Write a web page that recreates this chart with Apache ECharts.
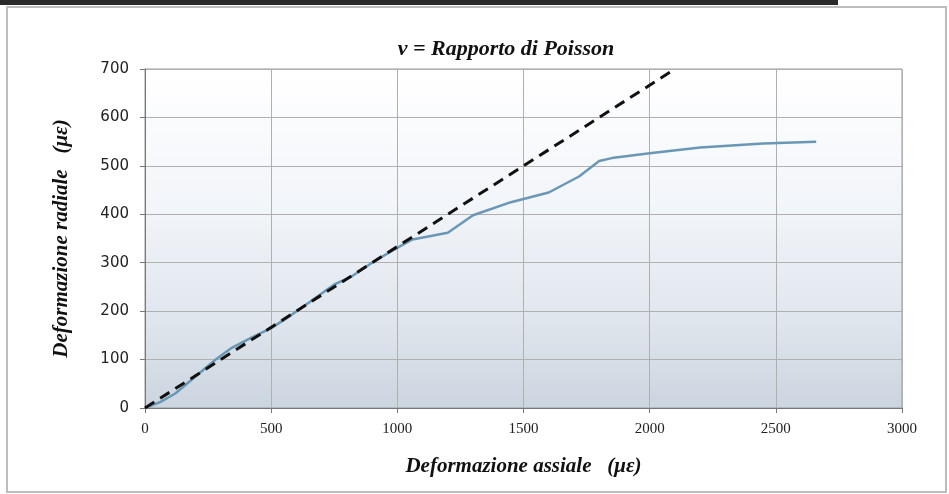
<!DOCTYPE html>
<html>
<head>
<meta charset="utf-8">
<script src="https://cdn.jsdelivr.net/npm/echarts@6/dist/echarts.min.js"></script>
<style>
html,body{margin:0;padding:0;background:#fff;}
#c{width:949px;height:494px;}
</style>
</head>
<body>
<div id="c"></div>
<script>
// ---- data ----
const axialStrain = [0, 60, 120, 200, 280, 340, 420, 500, 560, 650, 750, 820, 900, 980, 1060, 1200, 1300, 1450, 1600, 1720, 1800, 1850, 2000, 2200, 2450, 2660];
const radialStrain = [0, 12, 30, 65, 100, 123, 145, 165, 185, 218, 255, 272, 300, 325, 348, 362, 398, 425, 445, 478, 510, 516, 526, 538, 546, 550];
const poissonLineX = [0, 2100];
const poissonLineY = [0, 700];
const xTicks = [0, 500, 1000, 1500, 2000, 2500, 3000];
const yTicks = [0, 100, 200, 300, 400, 500, 600, 700];

const titleText = 'ν = Rapporto di Poisson';
const xName = 'Deformazione assiale   (με)';
const yName = 'Deformazione radiale   (με)';

const measured = axialStrain.map((x, i) => [x, radialStrain[i]]);
const fitted = poissonLineX.map((x, i) => [x, poissonLineY[i]]);

const chart = echarts.init(document.getElementById('c'), null, {renderer: 'canvas'});
const serifBI = {fontFamily: 'Liberation Serif', fontStyle: 'italic', fontWeight: 'bold', color: '#111'};

chart.setOption({
  animation: false,
  backgroundColor: '#ffffff',
  graphic: [
    {type: 'rect', shape: {x: 0, y: 0, width: 838, height: 5}, style: {fill: '#2a2a2a'}},
    {type: 'rect', shape: {x: 7, y: 7, width: 939, height: 485}, style: {fill: 'none', stroke: '#bdbdbd', lineWidth: 2}}
  ],
  title: {
    text: titleText,
    left: 501, top: 33, textAlign: 'center',
    textStyle: Object.assign({fontSize: 22}, serifBI)
  },
  grid: {
    left: 145, right: 47, top: 69, bottom: 86,
    show: true,
    borderColor: '#9a9a9a', borderWidth: 1,
    backgroundColor: new echarts.graphic.LinearGradient(0, 0, 0, 1, [
      {offset: 0, color: '#ffffff'},
      {offset: 0.4, color: '#f2f5f9'},
      {offset: 0.7, color: '#e2e8ef'},
      {offset: 1, color: '#cbd5df'}
    ])
  },
  xAxis: {
    type: 'value', min: xTicks[0], max: xTicks[xTicks.length - 1], interval: 500,
    name: xName, nameLocation: 'middle', nameGap: 48,
    nameTextStyle: Object.assign({fontSize: 21}, serifBI),
    axisLine: {show: true, lineStyle: {color: '#777', width: 1}},
    axisTick: {show: true, length: 5, lineStyle: {color: '#777'}},
    axisLabel: {fontFamily: 'Liberation Serif', fontSize: 15, color: '#222', margin: 14,
      formatter: v => String(v)},
    splitLine: {show: true, lineStyle: {color: '#b0b0b0', width: 1}}
  },
  yAxis: {
    type: 'value', min: yTicks[0], max: yTicks[yTicks.length - 1], interval: 100,
    name: yName, nameLocation: 'middle', nameGap: 73, nameRotate: 90,
    nameTextStyle: Object.assign({fontSize: 21}, serifBI),
    axisLine: {show: true, lineStyle: {color: '#777', width: 1}},
    axisTick: {show: true, length: 5, lineStyle: {color: '#777'}},
    axisLabel: {fontFamily: 'DejaVu Sans', fontSize: 15, color: '#222', margin: 16,
      formatter: v => String(v)},
    splitLine: {show: true, lineStyle: {color: '#b0b0b0', width: 1}}
  },
  series: [
    {
      type: 'line', data: measured, showSymbol: false, smooth: false,
      lineStyle: {color: '#6a97b5', width: 2.5}, z: 2
    },
    {
      type: 'line', data: fitted, showSymbol: false,
      lineStyle: {color: '#111', width: 3, type: [11, 7]}, z: 3
    }
  ]
});
</script>
</body>
</html>
